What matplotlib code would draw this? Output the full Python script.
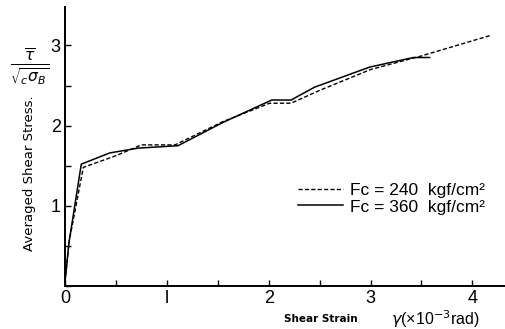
import matplotlib.pyplot as plt
from matplotlib.ticker import MultipleLocator

# Fc = 240 kgf/cm2 (dashed)
x240 = [0.0, 0.04, 0.18, 0.49, 0.75, 1.08, 1.55, 2.01, 2.22, 2.5, 3.0, 3.5, 4.19]
y240 = [0.05, 0.55, 1.48, 1.62, 1.76, 1.76, 2.05, 2.28, 2.28, 2.44, 2.70, 2.87, 3.13]

# Fc = 360 kgf/cm2 (solid)
x360 = [0.0, 0.04, 0.16, 0.44, 0.72, 1.11, 1.55, 2.03, 2.22, 2.45, 2.99, 3.42, 3.58]
y360 = [0.05, 0.55, 1.52, 1.66, 1.72, 1.75, 2.04, 2.32, 2.32, 2.48, 2.73, 2.85, 2.85]

plt.rcParams['font.family'] = ['Liberation Sans', 'DejaVu Sans']

fig = plt.figure(figsize=(5.05, 3.29), dpi=100)
ax = fig.add_axes([0.1287, 0.1307, 0.8713, 0.848])

ax.plot(x240, y240, color="black", lw=1.0, ls=(0, (3, 1.6)),
        label="Fc = 240  kgf/cm\u00b2")
ax.plot(x360, y360, color="black", lw=1.1, ls="-",
        label="Fc = 360  kgf/cm\u00b2")

ax.set_xlim(0, 4.32)
ax.set_ylim(0, 3.48)
ax.xaxis.set_minor_locator(MultipleLocator(0.5))
ax.yaxis.set_minor_locator(MultipleLocator(0.5))
ax.set_xticks([0, 1, 2, 3, 4])
ax.set_xticklabels(["0", "l", "2", "3", "4"])
ax.set_yticks([1, 2, 3])
ax.set_yticklabels(["1", "2", "3"])
ax.tick_params(which="both", direction="in", length=4, width=1, labelsize=13, pad=3)
for s in ["top", "right"]:
    ax.spines[s].set_visible(False)
ax.spines["left"].set_linewidth(1.4)
ax.spines["bottom"].set_linewidth(1.4)

fig.text(0.059, 0.474, "Averaged Shear Stress.", rotation=90, fontsize=9.5,
         ha="center", va="center", family="DejaVu Sans")
fig.text(0.058, 0.80, r"$\frac{\overline{\tau}}{\sqrt{{}_c\sigma_B}}$", fontsize=16,
         ha="center", va="center")
fig.text(0.636, 0.03, "Shear Strain", fontsize=7.5, ha="center", va="center",
         family="DejaVu Sans", weight="bold")
fig.text(0.861, 0.03, "$\\gamma$(\u00d710$^{-3}$rad)", fontsize=11.5,
         ha="center", va="center")

ax.legend(loc="lower right", bbox_to_anchor=(0.99, 0.2), frameon=False,
          fontsize=12.5, handlelength=2.6, handletextpad=0.4, labelspacing=0.1)

fig.savefig("out.png", dpi=100)
